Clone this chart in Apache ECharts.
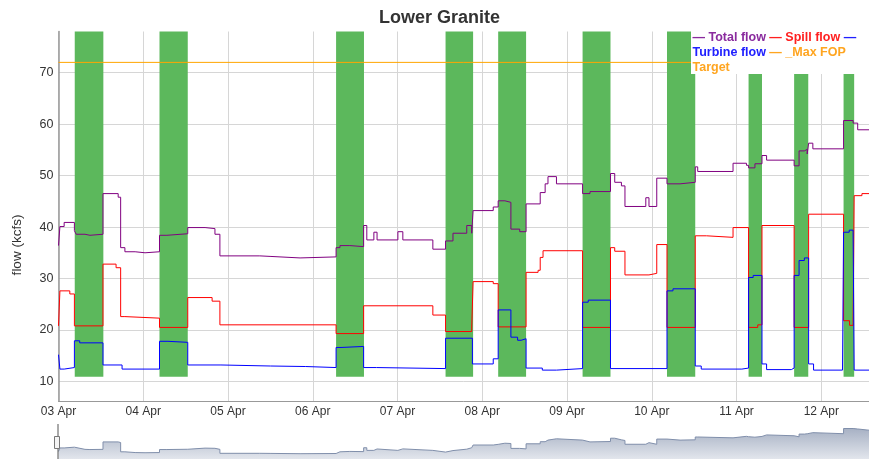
<!DOCTYPE html>
<html>
<head>
<meta charset="utf-8">
<script src="https://cdn.jsdelivr.net/npm/echarts@6/dist/echarts.min.js"></script>
<style>
  html, body { margin: 0; padding: 0; background: #fff; }
  #chart { width: 869px; height: 459px; }
</style>
</head>
<body>
<div id="chart"></div>
<script>
  // x values are hours from 03 Apr 00:00; each pair = [hour, value] (step changes)
  const dayLabels = ['03 Apr', '04 Apr', '05 Apr', '06 Apr', '07 Apr', '08 Apr', '09 Apr', '10 Apr', '11 Apr', '12 Apr']
  const endHour = 229.5

  const totalFlow = [
    [0, 36.4], [0.4, 40.1], [1.6, 40.9], [4.5, 39.3], [5, 38.6], [7.5, 38.4], [8.9, 38.6],
    [12.6, 46.5], [16.9, 45.8], [17.6, 36.0], [18.8, 35.2], [21.7, 35.0], [24.5, 35.2],
    [28.6, 38.4], [30.7, 38.7], [36.6, 39.9], [41.5, 39.7], [44.3, 38.6], [45.7, 34.4],
    [57, 34.3], [59.9, 34.0], [68.4, 34.2], [78.6, 36.0], [79.7, 36.4], [82.5, 36.2],
    [86.4, 40.3], [87.3, 37.5], [89.3, 39.0], [90.2, 37.5], [96.1, 39.1], [97.5, 37.5],
    [106, 35.7], [109.6, 37.3], [111.7, 38.8], [115.6, 40.3], [117, 38.8], [117.4, 43.2],
    [123.1, 43.9], [124.5, 45.1], [126.4, 44.8], [128.1, 39.6], [130.6, 39.1], [132.4, 44.5],
    [136.4, 46.7], [137.8, 48.4], [138.6, 49.8], [141, 48.4], [148.4, 46.5], [150.5, 46.9],
    [156.3, 50.4], [157.5, 48.7], [159.4, 48.0], [160.4, 44.0], [166.3, 45.7], [167.2, 44.0],
    [169.4, 49.5], [172.3, 48.4], [176, 48.7], [180.3, 51.7], [181, 50.8], [191, 52.4],
    [194.8, 52.0], [195.4, 51.5], [197.2, 52.3], [199.2, 53.9], [200.5, 53.0], [208.3, 51.9],
    [209.7, 54.8], [211.2, 55.1], [212.0, 54.2], [212.4, 56.3], [213.6, 55.2], [222.3, 60.7],
    [225.0, 60.2], [226.3, 58.9], [endHour, 58.9]
  ]

  const spillFlow = [
    [0, 20.8], [0.4, 27.6], [3.2, 27.0], [4.5, 20.8], [12.6, 32.8], [16.3, 32.1], [17.6, 22.6],
    [18.8, 22.3], [28.6, 20.5], [36.6, 26.3], [43.5, 25.6], [45.7, 21.0], [78.6, 19.3],
    [86.4, 24.7], [106, 22.9], [109.6, 19.7], [117, 20.2], [117.4, 29.4], [123.1, 29.0],
    [124.5, 20.6], [132.4, 31.2], [135.8, 31.6], [136.4, 34.1], [137.2, 35.4], [148.4, 20.5],
    [156.3, 36.0], [157.5, 35.3], [160.4, 30.7], [167.2, 31.0], [169.4, 36.6], [172.3, 20.5],
    [180.3, 38.3], [183.5, 38.0], [191, 39.9], [195.4, 20.5], [198, 21.0], [199.2, 40.3],
    [208.3, 20.5], [212.4, 42.5], [222.3, 21.8], [224, 20.9], [225.0, 21.5], [225.3, 46.1],
    [227.5, 46.5], [endHour, 46.5]
  ]

  const turbineFlow = [
    [0, 15.2], [0.4, 12.4], [1.6, 12.7], [4.5, 17.9], [6, 17.5], [12.6, 13.2], [18, 12.4],
    [28.6, 17.8], [31, 17.6], [36.6, 13.2], [46, 13.0], [60, 12.9], [70, 12.7], [78.6, 16.6],
    [80, 16.8], [86.4, 12.7], [90, 12.5], [109.6, 18.4], [117.2, 13.4], [123.1, 14.4],
    [124.5, 23.9], [128.1, 18.6], [130, 18.0], [131, 18.3], [132.4, 12.6], [137, 12.2],
    [141, 12.5], [148.4, 25.4], [150, 25.8], [156.3, 12.5], [172.3, 27.6], [174, 28.0],
    [180.3, 13.0], [182, 12.4], [193.5, 12.6], [195.4, 30.2], [196.7, 30.6], [199.2, 13.4],
    [200.5, 12.3], [207.5, 12.6], [208.3, 30.6], [209.7, 33.5], [211.2, 34.0], [212.4, 13.4],
    [213.8, 12.2], [222, 12.5], [222.3, 39.0], [223.9, 39.4], [225.0, 39.0], [225.3, 12.2],
    [endHour, 12.2]
  ]

  const maxFopTarget = [[0, 72], [endHour, 72]]

  // green spill windows [start hour, end hour]
  const spillBands = [
    [4.6, 12.7], [28.6, 36.6], [78.6, 86.5], [109.6, 117.4], [124.5, 132.4],
    [148.4, 156.3], [172.3, 180.3], [195.4, 199.2], [208.3, 212.3], [222.3, 225.3]
  ]
  const bandBottom = 10.9

  const font = '"Liberation Sans", Arial, sans-serif'
  const chart = echarts.init(document.getElementById('chart'))

  const option = {
    animation: false,
    title: {
      text: 'Lower Granite',
      left: 374,
      top: 4,
      textStyle: { fontSize: 18, fontWeight: 'bold', color: '#333', fontFamily: font }
    },
    grid: [
      { left: 58.5, right: 0, top: 31.5, height: 369.5, outerBoundsMode: 'none' },
      { left: 58.5, right: 0, top: 421, height: 40, outerBoundsMode: 'none' }
    ],
    xAxis: [
      {
        type: 'value',
        min: 0,
        max: endHour,
        interval: 24,
        gridIndex: 0,
        axisLine: { show: true, lineStyle: { color: '#999', width: 1 } },
        axisTick: { show: false },
        axisLabel: {
          margin: 5,
          fontSize: 12,
          color: '#333',
          fontFamily: font,
          showMaxLabel: false,
          formatter: v => dayLabels[Math.round(v / 24)] || ''
        },
        splitLine: { show: true, showMaxLine: false, lineStyle: { color: '#d6d6d6' } }
      },
      {
        type: 'value', min: 0, max: endHour, gridIndex: 1, show: false
      }
    ],
    yAxis: [
      {
        type: 'value',
        min: 6.2,
        max: 78,
        gridIndex: 0,
        axisLine: { show: true, lineStyle: { color: '#999', width: 1.5 } },
        axisTick: { show: false },
        axisLabel: {
          margin: 5,
          fontSize: 12.5,
          color: '#333',
          fontFamily: font,
          showMinLabel: false,
          showMaxLabel: false
        },
        splitLine: { show: true, showMinLine: false, showMaxLine: false, lineStyle: { color: '#d6d6d6' } }
      },
      {
        type: 'value', min: 26.25, max: 68.65, gridIndex: 1, show: false
      }
    ],
    graphic: [
      {
        type: 'text',
        x: 17.5,
        y: 245,
        rotation: Math.PI / 2,
        style: {
          text: 'flow (kcfs)',
          fill: '#333',
          font: '13.5px ' + font,
          align: 'center',
          verticalAlign: 'middle'
        }
      },
      {
        type: 'rect',
        shape: { x: 691, y: 27, width: 178, height: 47 },
        style: { fill: '#fff' },
        z: 10
      },
      {
        type: 'text',
        x: 692.5,
        y: 30,
        z: 11,
        style: {
          text: '{p|— Total flow} {r|— Spill flow} {b|—}\n{b|Turbine flow} {o|— _Max FOP}\n{o|Target}',
          font: 'bold 12.5px ' + font,
          lineHeight: 15,
          rich: {
            p: { fill: '#8a2b9e', fontWeight: 'bold', fontSize: 12.5, fontFamily: font, lineHeight: 15 },
            r: { fill: '#ff2020', fontWeight: 'bold', fontSize: 12.5, fontFamily: font, lineHeight: 15 },
            b: { fill: '#2020ff', fontWeight: 'bold', fontSize: 12.5, fontFamily: font, lineHeight: 15 },
            o: { fill: '#ffa520', fontWeight: 'bold', fontSize: 12.5, fontFamily: font, lineHeight: 15 }
          }
        }
      },
      // range selector left handle
      {
        type: 'line',
        shape: { x1: 58, y1: 424, x2: 58, y2: 459 },
        style: { stroke: '#555', lineWidth: 1 },
        z: 10
      },
      {
        type: 'rect',
        shape: { x: 54.5, y: 436.5, width: 5, height: 12 },
        style: { fill: '#f4f4f4', stroke: '#777', lineWidth: 1 },
        z: 11
      }
    ],
    series: [
      {
        name: 'spill windows',
        type: 'line',
        data: [],
        silent: true,
        z: 1,
        markArea: {
          silent: true,
          itemStyle: { color: '#5cb85c', opacity: 1 },
          data: spillBands.map(([s, e]) => [{ xAxis: s, yAxis: bandBottom }, { xAxis: e, yAxis: 78 }])
        }
      },
      {
        name: 'Total flow',
        type: 'line',
        step: 'end',
        data: totalFlow,
        showSymbol: false,
        z: 3,
        lineStyle: { color: '#800080', width: 1 }
      },
      {
        name: 'Spill flow',
        type: 'line',
        step: 'end',
        data: spillFlow,
        showSymbol: false,
        z: 3,
        lineStyle: { color: '#ff0000', width: 1 }
      },
      {
        name: 'Turbine flow',
        type: 'line',
        step: 'end',
        data: turbineFlow,
        showSymbol: false,
        z: 3,
        lineStyle: { color: '#0000ff', width: 1 }
      },
      {
        name: '_Max FOP Target',
        type: 'line',
        data: maxFopTarget,
        showSymbol: false,
        z: 3,
        lineStyle: { color: '#ffa500', width: 1 }
      },
      {
        // range selector preview
        name: 'range',
        type: 'line',
        step: 'end',
        xAxisIndex: 1,
        yAxisIndex: 1,
        data: totalFlow,
        showSymbol: false,
        silent: true,
        lineStyle: { color: '#808fab', width: 1 },
        areaStyle: {
          opacity: 1,
          color: new echarts.graphic.LinearGradient(0, 0, 0, 1, [
            { offset: 0, color: '#a7b1c4' },
            { offset: 1, color: '#e6e9ef' }
          ])
        }
      }
    ]
  }

  chart.setOption(option)
</script>
</body>
</html>
